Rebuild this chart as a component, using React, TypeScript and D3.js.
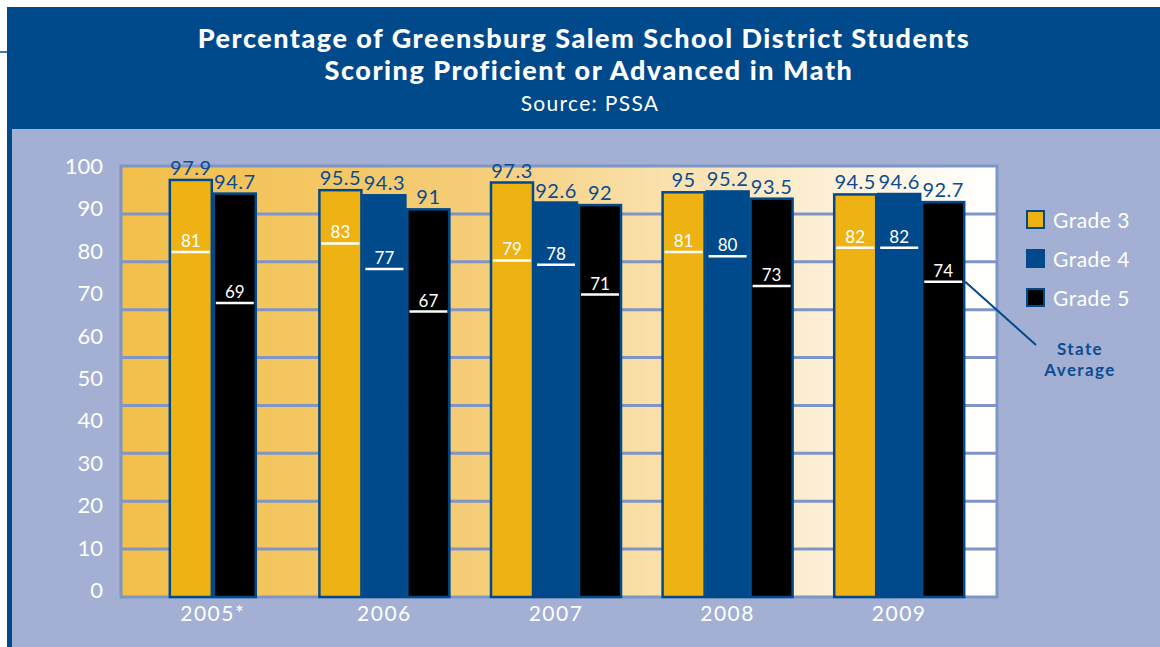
import * as d3 from "d3";
import React, { useRef, useEffect } from "react";

const years = ["2005*", "2006", "2007", "2008", "2009"];
const grades = ["Grade 3", "Grade 4", "Grade 5"];
const grade3 = [97.9, 95.5, 97.3, 95, 94.5];
const grade4 = [null, 94.3, 92.6, 95.2, 94.6];
const grade5 = [94.7, 91, 92, 93.5, 92.7];
const state3 = [81, 83, 79, 81, 82];
const state4 = [null, 77, 78, 80, 82];
const state5 = [69, 67, 71, 73, 74];
const yTicks = [0, 10, 20, 30, 40, 50, 60, 70, 80, 90, 100];

const NAVY = "#004a8c";
const GOLD = "#efb213";
const PANEL = "#a3b0d3";
const GRID = "#7f95c5";
const FONT = "Lato, 'Open Sans', sans-serif";

const App = () => {
  const ref = useRef(null);

  useEffect(() => {
    if (!ref.current) return;
    const W = 1160;
    const H = 647;
    const svg = d3.select(ref.current);
    svg.selectAll("*").remove();

    // frame
    svg.append("rect").attr("width", W).attr("height", H).attr("fill", "#fff");
    svg.append("rect").attr("x", 7).attr("y", 7).attr("width", W - 7).attr("height", H - 7).attr("fill", NAVY);
    svg.append("line").attr("x1", 0).attr("x2", 7).attr("y1", 52).attr("y2", 52).attr("stroke", NAVY).attr("stroke-width", 1.5);
    svg.append("rect").attr("x", 12).attr("y", 129).attr("width", W - 12).attr("height", H - 129).attr("fill", PANEL);

    // title
    const title = svg.append("g").attr("fill", "#fff").attr("text-anchor", "middle").style("font-family", FONT);
    title.append("text").attr("x", 584).attr("y", 48).attr("font-size", 27).attr("font-weight", 900)
      .attr("letter-spacing", 1.5)
      .text("Percentage of Greensburg Salem School District Students");
    title.append("text").attr("x", 589).attr("y", 80).attr("font-size", 27).attr("font-weight", 900)
      .attr("letter-spacing", 1.5)
      .text("Scoring Proficient or Advanced in Math");
    title.append("text").attr("x", 590).attr("y", 111).attr("font-size", 21).attr("letter-spacing", 1.3)
      .text("Source: PSSA");

    // plot area
    const plot = { left: 121, right: 997, top: 166, bottom: 597 };

    const defs = svg.append("defs");
    const grad = defs.append("linearGradient").attr("id", "bg").attr("x1", "0").attr("x2", "1").attr("y1", "0").attr("y2", "0");
    [
      [0, "#f2bf4a"],
      [0.4, "#f5cd78"],
      [0.6, "#f9dfa8"],
      [0.8, "#fcefd4"],
      [0.95, "#fffdf8"],
      [1, "#ffffff"],
    ].forEach(([o, c]) => grad.append("stop").attr("offset", o).attr("stop-color", c));

    svg.append("rect")
      .attr("x", plot.left).attr("y", plot.top)
      .attr("width", plot.right - plot.left).attr("height", plot.bottom - plot.top)
      .attr("fill", "url(#bg)")
      .attr("stroke", GRID).attr("stroke-width", 3);

    // decorative grid, splits the plot into 9 bands
    svg.append("g").selectAll("line")
      .data(d3.range(1, 9))
      .enter().append("line")
      .attr("x1", plot.left).attr("x2", plot.right)
      .attr("y1", (i) => plot.top + (i * (plot.bottom - plot.top)) / 9)
      .attr("y2", (i) => plot.top + (i * (plot.bottom - plot.top)) / 9)
      .attr("stroke", GRID).attr("stroke-width", 3);

    const y = d3.scaleLinear().domain([0, 100]).range([plot.bottom, 171]);
    const yLab = d3.scaleLinear().domain([0, 100]).range([590, 166]);
    const x = d3.scaleBand().domain(years).range([127, 985]);
    const barW = 44;

    // y labels
    svg.append("g").selectAll("text")
      .data(yTicks)
      .enter().append("text")
      .attr("x", 103).attr("y", (d) => yLab(d))
      .attr("dy", "0.36em")
      .attr("text-anchor", "end")
      .attr("fill", "#fff")
      .attr("font-size", 22)
      .style("font-family", FONT)
      .text((d) => d);

    // x labels
    svg.append("g").selectAll("text")
      .data(years)
      .enter().append("text")
      .attr("x", (d) => x(d) + x.bandwidth() / 2)
      .attr("y", 621)
      .attr("text-anchor", "middle")
      .attr("fill", "#fff")
      .attr("font-size", 21)
      .attr("letter-spacing", 1.5)
      .style("font-family", FONT)
      .text((d) => d);

    const series = [
      { name: grades[0], values: grade3, state: state3, fill: GOLD },
      { name: grades[1], values: grade4, state: state4, fill: NAVY },
      { name: grades[2], values: grade5, state: state5, fill: "#000" },
    ];

    const bars = [];
    years.forEach((yr, i) => {
      const present = series.filter((s) => s.values[i] != null);
      const c = x(yr) + x.bandwidth() / 2;
      const inner = d3.scaleBand().domain(present.map((s) => s.name))
        .range([c - (present.length * barW) / 2, c + (present.length * barW) / 2]);
      present.forEach((s) => bars.push({ x: inner(s.name), w: inner.bandwidth(), v: s.values[i], st: s.state[i], fill: s.fill }));
    });

    const g = svg.append("g");
    g.selectAll("rect")
      .data(bars)
      .enter().append("rect")
      .attr("x", (d) => d.x + 1)
      .attr("y", (d) => y(d.v))
      .attr("width", (d) => d.w - 2)
      .attr("height", (d) => y(0) - y(d.v))
      .attr("fill", (d) => d.fill)
      .attr("stroke", NAVY)
      .attr("stroke-width", 2.5);

    // state average lines
    g.selectAll(".avg")
      .data(bars)
      .enter().append("line")
      .attr("x1", (d) => d.x + 3).attr("x2", (d) => d.x + d.w - 3)
      .attr("y1", (d) => y(d.st)).attr("y2", (d) => y(d.st))
      .attr("stroke", "#fff").attr("stroke-width", 2.5);

    g.selectAll(".avgLbl")
      .data(bars)
      .enter().append("text")
      .attr("x", (d) => d.x + d.w / 2)
      .attr("y", (d) => y(d.st) - 5)
      .attr("text-anchor", "middle")
      .attr("fill", "#fff")
      .attr("font-size", 17)
      .style("font-family", FONT)
      .text((d) => d.st);

    // value labels
    g.selectAll(".val")
      .data(bars)
      .enter().append("text")
      .attr("x", (d) => d.x + d.w / 2)
      .attr("y", (d) => y(d.v) - 5)
      .attr("text-anchor", "middle")
      .attr("fill", "#0b4c91")
      .attr("font-size", 20)
      .attr("letter-spacing", 0.5)
      .style("font-family", FONT)
      .text((d) => d.v);

    // legend
    const legend = svg.selectAll(".legend")
      .data(series)
      .enter().append("g")
      .attr("transform", (d, i) => "translate(1027," + (211 + i * 39) + ")");
    legend.append("rect")
      .attr("width", 17).attr("height", 17)
      .attr("fill", (d) => d.fill)
      .attr("stroke", NAVY).attr("stroke-width", 2);
    legend.append("text")
      .attr("x", 26).attr("y", 9).attr("dy", "0.36em")
      .attr("fill", "#fff").attr("font-size", 21)
      .attr("letter-spacing", 0.5)
      .style("font-family", FONT)
      .text((d) => d.name);

    // State Average callout
    const last = bars[bars.length - 1];
    svg.append("line")
      .attr("x1", last.x + last.w).attr("y1", y(last.st))
      .attr("x2", 1036).attr("y2", 345)
      .attr("stroke", NAVY).attr("stroke-width", 2);
    const note = svg.append("g").attr("fill", "#0b4c91").attr("text-anchor", "middle")
      .attr("font-size", 17).attr("font-weight", 700).attr("letter-spacing", 1.4).style("font-family", FONT);
    note.append("text").attr("x", 1080).attr("y", 355).text("State");
    note.append("text").attr("x", 1080).attr("y", 376).text("Average");
  }, []);

  return <svg ref={ref} width={1160} height={647} style={{ position: "absolute", left: 0, top: 0 }} />;
};

export default App;
